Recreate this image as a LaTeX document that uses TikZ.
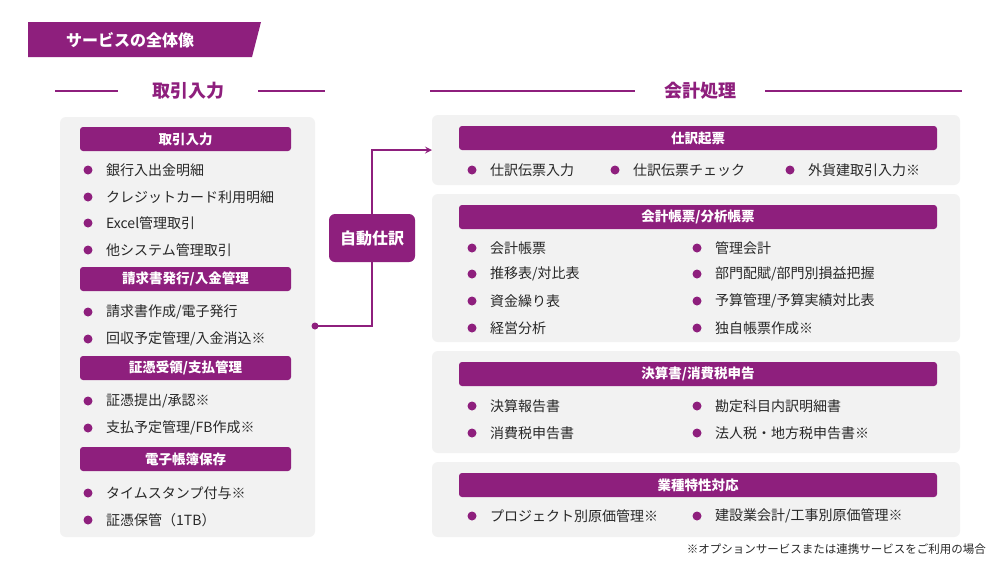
\documentclass[tikz,border=0pt]{standalone}
\usepackage{fontspec}
\setmainfont{Noto Sans CJK JP}
\usetikzlibrary{positioning}
\definecolor{plum}{RGB}{142,31,125}
\definecolor{panelgray}{RGB}{242,242,242}
\definecolor{textgray}{RGB}{40,40,40}

\tikzset{
  panel/.style={fill=panelgray,rounded corners=6pt,draw=none},
  bar/.style={fill=plum,rounded corners=3pt,text=white,font=\fontsize{13.5}{13.5}\selectfont\bfseries,inner sep=0pt},
  item/.style={anchor=west,text=textgray,font=\fontsize{14}{14}\selectfont,inner sep=0pt},
  dot/.style={circle,fill=plum,inner sep=0pt,minimum size=9pt},
  head/.style={text=plum,font=\fontsize{18}{18}\selectfont\bfseries},
  rule/.style={plum,line width=1.2pt}
}
\newcommand{\itm}[4]{% name, x, y, text
  \node[dot] (#1d) at (#2,#3) {};
  \node[item] (#1) at (#2+18,#3) {#4};}

\begin{document}
\begin{tikzpicture}[x=1pt,y=-1pt]
\useasboundingbox (0,0) rectangle (1000,563);
\fill[white] (0,0) rectangle (1000,563);

% title banner
\fill[plum] (28,22) -- (261,22) -- (252,57) -- (28,57) -- cycle;
\node[text=white,font=\fontsize{16}{16}\selectfont\bfseries] (title) at (130,40) {サービスの全体像};

% headings
\node[head] (hin) at (188,91) {取引入力};
\draw[rule] (55,91) -- (118,91) (258,91) -- (325,91);
\node[head] (hout) at (700,91) {会計処理};
\draw[rule] (430,91) -- (635,91) (765,91) -- (962,91);

% left panel
\fill[panel] (60,117) rectangle (315,537);
\node[bar,minimum width=211pt,minimum height=24pt] (b1) at (185.5,139) {取引入力};
\itm{l1}{88}{170}{銀行入出金明細}
\itm{l2}{88}{197}{クレジットカード利用明細}
\itm{l3}{88}{223}{Excel管理取引}
\itm{l4}{88}{250}{他システム管理取引}
\node[bar,minimum width=211pt,minimum height=24pt] (b2) at (185.5,279) {請求書発行/入金管理};
\itm{l5}{88}{312}{請求書作成/電子発行}
\itm{l6}{88}{339}{回収予定管理/入金消込※}
\node[bar,minimum width=211pt,minimum height=24pt] (b3) at (185.5,368) {証憑受領/支払管理};
\itm{l7}{88}{401}{証憑提出/承認※}
\itm{l8}{88}{428}{支払予定管理/FB作成※}
\node[bar,minimum width=211pt,minimum height=24pt] (b4) at (185.5,459) {電子帳簿保存};
\itm{l9}{88}{493}{タイムスタンプ付与※}
\itm{l10}{88}{520}{証憑保管（1TB）}

% center
\node[fill=plum,rounded corners=6pt,text=white,minimum width=86pt,minimum height=48pt,font=\fontsize{16}{16}\selectfont\bfseries] (auto) at (372,238) {自動仕訳};
\coordinate (src) at (315,326);
\coordinate (dst) at (432,150);
\fill[plum] (src) circle (3.5pt);
\draw[plum,line width=2pt,->,>=stealth] (src) -| (auto.south) (auto.north) |- (dst);

% right panels
\fill[panel] (432,115) rectangle (960,185);
\node[bar,minimum width=478pt,minimum height=24pt] (r1) at (698,138) {仕訳起票};
\itm{r1a}{472}{170}{仕訳伝票入力}
\itm{r1b}{615}{170}{仕訳伝票チェック}
\itm{r1c}{790}{170}{外貨建取引入力※}

\fill[panel] (432,194) rectangle (960,342);
\node[bar,minimum width=478pt,minimum height=24pt] (r2) at (698,217) {会計帳票/分析帳票};
\itm{r2a}{472}{248}{会計帳票}
\itm{r2b}{472}{274}{推移表/対比表}
\itm{r2c}{472}{301}{資金繰り表}
\itm{r2d}{472}{328}{経営分析}
\itm{r2e}{697}{248}{管理会計}
\itm{r2f}{697}{274}{部門配賦/部門別損益把握}
\itm{r2g}{697}{301}{予算管理/予算実績対比表}
\itm{r2h}{697}{328}{独自帳票作成※}

\fill[panel] (432,351) rectangle (960,453);
\node[bar,minimum width=478pt,minimum height=24pt] (r3) at (698,374) {決算書/消費税申告};
\itm{r3a}{472}{406}{決算報告書}
\itm{r3b}{472}{433}{消費税申告書}
\itm{r3c}{697}{406}{勘定科目内訳明細書}
\itm{r3d}{697}{433}{法人税・地方税申告書※}

\fill[panel] (432,462) rectangle (960,537);
\node[bar,minimum width=478pt,minimum height=24pt] (r4) at (698,485) {業種特性対応};
\itm{r4a}{472}{516}{プロジェクト別原価管理※}
\itm{r4b}{697}{516}{建設業会計/工事別原価管理※}

% footnote
\node[anchor=east,text=textgray,font=\fontsize{11.5}{11.5}\selectfont,inner sep=0pt] (note) at (986,549) {※オプションサービスまたは連携サービスをご利用の場合};
\end{tikzpicture}
\end{document}
